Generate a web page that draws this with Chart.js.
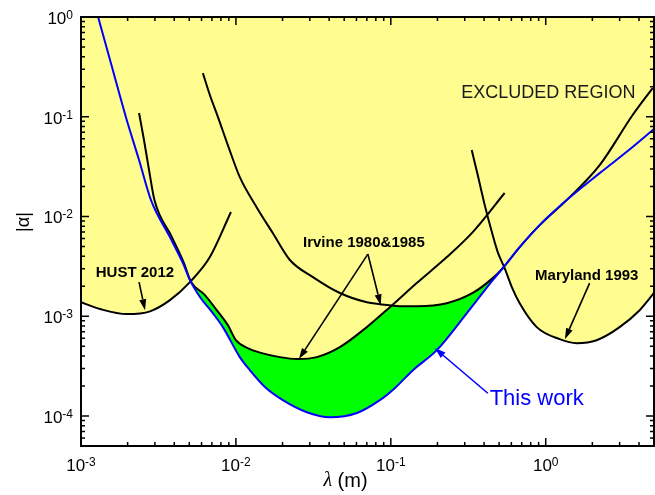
<!DOCTYPE html>
<html>
<head>
<meta charset="utf-8">
<script src="https://cdn.jsdelivr.net/npm/chart.js@4.4.0/dist/chart.umd.min.js"></script>
<style>
  html, body { margin: 0; padding: 0; background: #fff; }
  #wrap { width: 655px; height: 495px; }
</style>
</head>
<body>
<div id="wrap"><canvas id="chart" width="655" height="495"></canvas></div>
<script>
// values (lambda in m, |alpha|)
const thisWorkLambda = [1.29e-3, 1.585e-3, 1.95e-3, 2.37e-3, 2.83e-3, 3.75e-3, 4.55e-3, 5.05e-3, 5.86e-3, 7.11e-3, 8.24e-3, 0.0106, 0.0123, 0.0154, 0.0201, 0.0287, 0.0404, 0.0604, 0.0849, 0.106, 0.139, 0.198, 0.309, 0.455, 0.528, 0.679, 0.914, 1.365, 2.23, 3.64, 5.0];
const thisWorkAlpha = [1.0, 0.315, 0.099, 0.0368, 0.0146, 6.21e-3, 3.41e-3, 2.30e-3, 1.56e-3, 1.07e-3, 7.78e-4, 3.89e-4, 2.88e-4, 1.95e-4, 1.44e-4, 1.09e-4, 9.7e-5, 1.07e-4, 1.44e-4, 1.90e-4, 2.88e-4, 4.57e-4, 1.07e-3, 2.30e-3, 3.03e-3, 4.93e-3, 8.2e-3, 0.0146, 0.0272, 0.0497, 0.0753];

const hustLambda = [1.0e-3, 1.33e-3, 1.98e-3, 2.79e-3, 3.75e-3, 5.05e-3, 6.79e-3, 9.29e-3];
const hustAlpha = [1.38e-3, 1.18e-3, 1.05e-3, 1.12e-3, 1.45e-3, 2.20e-3, 3.92e-3, 0.0111];

const irvineALambda = [2.37e-3, 2.55e-3, 2.75e-3, 2.98e-3, 3.86e-3, 4.62e-3, 5.1e-3, 6.31e-3, 7.43e-3, 8.87e-3, 0.0100, 0.0119, 0.0147, 0.0192, 0.0248, 0.0333, 0.0469, 0.070, 0.0986, 0.147, 0.230, 0.338, 0.543];
const irvineAAlpha = [0.109, 0.0584, 0.0292, 0.0146, 6.21e-3, 3.41e-3, 2.25e-3, 1.63e-3, 1.18e-3, 8.15e-4, 5.75e-4, 4.79e-4, 4.27e-4, 3.89e-4, 3.72e-4, 3.89e-4, 4.90e-4, 7.78e-4, 1.23e-3, 2.15e-3, 3.92e-3, 6.98e-3, 0.0172];

const irvineBLambda = [6.12e-3, 6.79e-3, 7.66e-3, 8.87e-3, 0.0106, 0.0136, 0.0173, 0.0223, 0.0314, 0.0469, 0.070, 0.0849, 0.114, 0.147, 0.230, 0.338, 0.455, 0.528, 0.679, 0.914, 1.365, 2.23, 3.64, 4.90];
const irvineBAlpha = [0.274, 0.165, 0.0993, 0.052, 0.0248, 0.0124, 6.82e-3, 3.66e-3, 2.47e-3, 1.71e-3, 1.38e-3, 1.32e-3, 1.26e-3, 1.26e-3, 1.35e-3, 1.71e-3, 2.41e-3, 3.03e-3, 4.93e-3, 8.2e-3, 0.0146, 0.0327, 0.104, 0.194];

const marylandLambda = [0.333, 0.364, 0.404, 0.449, 0.490, 0.543, 0.604, 0.679, 0.875, 1.23, 1.585, 2.13, 3.0, 4.04, 5.0];
const marylandAlpha = [0.0463, 0.026, 0.0130, 6.98e-3, 4.40e-3, 3.03e-3, 1.96e-3, 1.35e-3, 7.78e-4, 5.89e-4, 5.37e-4, 5.75e-4, 7.78e-4, 1.15e-3, 1.71e-3];

const xTicks = [1e-3, 1e-2, 1e-1, 1];
const xTickExp = ['-3', '-2', '-1', '0'];
const yTicks = [1e-4, 1e-3, 1e-2, 1e-1, 1];
const yTickExp = ['-4', '-3', '-2', '-1', '0'];

const notes = [
  { text: 'EXCLUDED REGION', x: 1.04, y: 0.173, font: '18px "Liberation Sans", Arial, sans-serif', color: '#1a1a1a' },
  { text: 'HUST 2012', x: 2.23e-3, y: 2.71e-3, font: 'bold 15px "Liberation Sans", Arial, sans-serif', color: '#000' },
  { text: 'Irvine 1980&1985', x: 0.067, y: 5.41e-3, font: 'bold 15px "Liberation Sans", Arial, sans-serif', color: '#000' },
  { text: 'Maryland 1993', x: 1.84, y: 2.52e-3, font: 'bold 15px "Liberation Sans", Arial, sans-serif', color: '#000' },
  { text: 'This work', x: 0.875, y: 1.47e-4, font: '22px "Liberation Sans", Arial, sans-serif', color: '#0000ff' }
];
const arrows = [
  { from: [2.37e-3, 2.2e-3], to: [2.59e-3, 1.15e-3], color: '#000' },
  { from: [0.0711, 4.2e-3], to: [0.0255, 3.72e-4], color: '#000' },
  { from: [0.0711, 4.2e-3], to: [0.0861, 1.29e-3], color: '#000' },
  { from: [1.92, 2.15e-3], to: [1.33, 5.89e-4], color: '#000' },
  { from: [0.423, 1.69e-4], to: [0.192, 4.79e-4], color: '#0000ff' }
];

const YELLOW = 'rgb(255, 253, 143)';
const GREEN = 'rgb(0, 255, 0)';
const BLUE = 'rgb(0, 0, 255)';
const SANS = '"Liberation Sans", Arial, sans-serif';

function pts(xs, ys) {
  return xs.map((x, i) => ({ x: x, y: ys[i] }));
}

function curve(label, xs, ys, color, width, fillColor) {
  return {
    label: label,
    data: pts(xs, ys),
    borderColor: color,
    borderWidth: width,
    backgroundColor: fillColor || 'transparent',
    fill: fillColor ? 'end' : false,
    pointRadius: 0,
    cubicInterpolationMode: 'monotone'
  };
}

function drawPow(ctx, exp, x, y, align) {
  ctx.font = '17px ' + SANS;
  const wb = ctx.measureText('10').width;
  ctx.font = '12px ' + SANS;
  const we = ctx.measureText(exp).width;
  const left = align === 'right' ? x - wb - we : x - (wb + we) / 2;
  ctx.textAlign = 'left';
  ctx.textBaseline = 'alphabetic';
  ctx.fillStyle = '#000';
  ctx.font = '17px ' + SANS;
  ctx.fillText('10', left, y + 6);
  ctx.font = '12px ' + SANS;
  ctx.fillText(exp, left + wb, y + 1);
}

function arrow(ctx, x1, y1, x2, y2, color) {
  const ang = Math.atan2(y2 - y1, x2 - x1);
  const len = 11, half = 3.5;
  const bx = x2 - len * Math.cos(ang), by = y2 - len * Math.sin(ang);
  ctx.strokeStyle = color;
  ctx.fillStyle = color;
  ctx.lineWidth = 1.6;
  ctx.beginPath();
  ctx.moveTo(x1, y1);
  ctx.lineTo(bx, by);
  ctx.stroke();
  ctx.beginPath();
  ctx.moveTo(x2, y2);
  ctx.lineTo(bx + half * Math.sin(ang), by - half * Math.cos(ang));
  ctx.lineTo(bx - half * Math.sin(ang), by + half * Math.cos(ang));
  ctx.closePath();
  ctx.fill();
}

const framePlugin = {
  id: 'frame',
  afterDraw(chart) {
    const ctx = chart.ctx;
    const a = chart.chartArea;
    const xs = chart.scales.x, ys = chart.scales.y;
    ctx.save();

    // notes and arrows
    notes.forEach(n => {
      ctx.font = n.font;
      ctx.fillStyle = n.color;
      ctx.textAlign = 'center';
      ctx.textBaseline = 'middle';
      ctx.fillText(n.text, xs.getPixelForValue(n.x), ys.getPixelForValue(n.y));
    });
    arrows.forEach(r => {
      arrow(ctx, xs.getPixelForValue(r.from[0]), ys.getPixelForValue(r.from[1]),
        xs.getPixelForValue(r.to[0]), ys.getPixelForValue(r.to[1]), r.color);
    });

    // ticks, inward on all sides
    ctx.strokeStyle = '#000';
    ctx.lineWidth = 1.5;
    ctx.beginPath();
    xTicks.forEach(t => {
      for (let m = 1; m <= 9; m++) {
        const v = t * m;
        if (v > xs.max * 1.0001) break;
        const px = xs.getPixelForValue(v);
        const len = m === 1 ? 8 : 4;
        ctx.moveTo(px, a.bottom); ctx.lineTo(px, a.bottom - len);
        ctx.moveTo(px, a.top); ctx.lineTo(px, a.top + len);
      }
    });
    [5e-5].concat(yTicks).forEach((t, i) => {
      for (let m = 1; m <= 9; m++) {
        const v = i === 0 ? t + m * 1e-5 - 1e-5 : t * m;
        if (i === 0 && m > 5) break;
        if (v > ys.max * 1.0001) break;
        const py = ys.getPixelForValue(v);
        const len = (i > 0 && m === 1) ? 8 : 4;
        ctx.moveTo(a.left, py); ctx.lineTo(a.left + len, py);
        ctx.moveTo(a.right, py); ctx.lineTo(a.right - len, py);
      }
    });
    ctx.stroke();

    ctx.lineWidth = 2;
    ctx.strokeRect(a.left, a.top, a.right - a.left, a.bottom - a.top);

    // tick labels
    xTicks.forEach((t, i) => drawPow(ctx, xTickExp[i], xs.getPixelForValue(t), 465, 'center'));
    yTicks.forEach((t, i) => drawPow(ctx, yTickExp[i], 73, ys.getPixelForValue(t) + 1, 'right'));

    // axis titles
    ctx.fillStyle = '#000';
    ctx.textBaseline = 'middle';
    ctx.save();
    ctx.translate(24, 222);
    ctx.rotate(-Math.PI / 2);
    ctx.textAlign = 'center';
    ctx.font = '18px ' + SANS;
    ctx.fillText('|\u03b1|', 0, 0);
    ctx.restore();

    ctx.textAlign = 'left';
    ctx.font = 'italic 20px "Liberation Serif", "Times New Roman", serif';
    const wl = ctx.measureText('\u03bb').width;
    ctx.font = '20px ' + SANS;
    const wm = ctx.measureText(' (m)').width;
    const lx = (a.left + a.right) / 2 - (wl + wm) / 2 - 22;
    ctx.font = 'italic 20px "Liberation Serif", "Times New Roman", serif';
    ctx.fillText('\u03bb', lx, 481);
    ctx.font = '20px ' + SANS;
    ctx.fillText(' (m)', lx + wl, 481);

    ctx.restore();
  }
};

function initChart() {
  const ctx = document.getElementById('chart').getContext('2d');
  new Chart(ctx, {
    type: 'line',
    data: {
      datasets: [
        curve('This work', thisWorkLambda, thisWorkAlpha, BLUE, 2, null),
        curve('HUST 2012', hustLambda, hustAlpha, '#000', 2, YELLOW),
        curve('Irvine 1985', irvineALambda, irvineAAlpha, '#000', 2, YELLOW),
        curve('Irvine 1980', irvineBLambda, irvineBAlpha, '#000', 2, YELLOW),
        curve('Maryland 1993', marylandLambda, marylandAlpha, '#000', 2, YELLOW),
        curve('This work fill', thisWorkLambda, thisWorkAlpha, 'transparent', 0, GREEN)
      ]
    },
    options: {
      responsive: false,
      animation: false,
      devicePixelRatio: 1,
      layout: { padding: { left: 81, top: 17, right: 1, bottom: 49 } },
      plugins: {
        legend: { display: false },
        tooltip: { enabled: false },
        filler: { drawTime: 'beforeDatasetsDraw' }
      },
      scales: {
        x: { type: 'logarithmic', min: 1e-3, max: 5, display: false },
        y: { type: 'logarithmic', min: 5e-5, max: 1, display: false }
      }
    },
    plugins: [framePlugin]
  });
}

document.addEventListener('DOMContentLoaded', initChart);
</script>
</body>
</html>
